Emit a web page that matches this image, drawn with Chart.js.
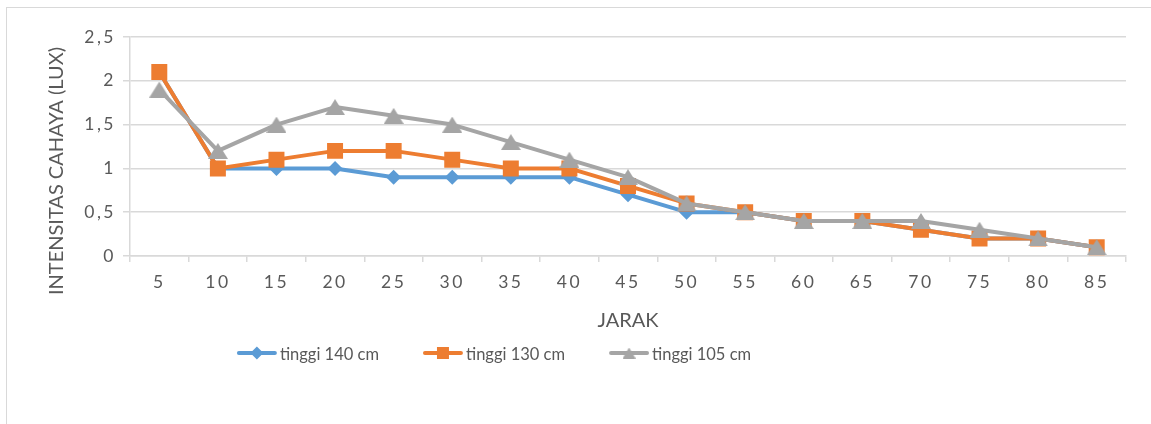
<!DOCTYPE html>
<html>
<head>
<meta charset="utf-8">
<script src="https://cdn.jsdelivr.net/npm/chart.js@4.4.1/dist/chart.umd.min.js"></script>
<style>
  html, body { margin: 0; padding: 0; background: #ffffff; overflow: hidden; }
  #wrap { position: relative; width: 1151px; height: 424px; }
  #frame { position: absolute; left: 6px; top: 7px; width: 1200px; height: 500px;
           border: 1.5px solid #d9d9d9; box-sizing: border-box; pointer-events: none; }
  canvas { position: absolute; left: 0; top: 0; }
</style>
</head>
<body>
<div id="wrap">
  <div id="frame"></div>
  <canvas id="chart" width="1151" height="424"></canvas>
</div>
<script>
// Jarak (cm) pada sumbu X
const jarak = ['5', '10', '15', '20', '25', '30', '35', '40', '45', '50', '55', '60', '65', '70', '75', '80', '85'];

// Intensitas cahaya (lux) untuk tiap tinggi lampu
const tinggi140 = [2.1, 1.0, 1.0, 1.0, 0.9, 0.9, 0.9, 0.9, 0.7, 0.5, 0.5, 0.4, 0.4, 0.3, 0.2, 0.2, 0.1];
const tinggi130 = [2.1, 1.0, 1.1, 1.2, 1.2, 1.1, 1.0, 1.0, 0.8, 0.6, 0.5, 0.4, 0.4, 0.3, 0.2, 0.2, 0.1];
const tinggi105 = [1.9, 1.2, 1.5, 1.7, 1.6, 1.5, 1.3, 1.1, 0.9, 0.6, 0.5, 0.4, 0.4, 0.4, 0.3, 0.2, 0.1];

const seriesNames = ['tinggi 140 cm', 'tinggi 130 cm', 'tinggi 105 cm'];
const yTicks = [0, 0.5, 1, 1.5, 2, 2.5];
const yTitle = 'INTENSITAS CAHAYA (LUX)';
const xTitle = 'JARAK';

const BLUE = '#5B9BD5', ORANGE = '#ED7D31', GRAY = '#A5A5A5';
const TEXT = '#595959', GRID = '#d9d9d9';
const FONT = 'Lato, "Open Sans", sans-serif';

const fmt = v => String(v).replace('.', ',');

// Triangle marker centred on its bounding box
function triangleImage(w, h, color) {
  const c = document.createElement('canvas');
  c.width = w; c.height = h;
  const g = c.getContext('2d');
  g.fillStyle = color;
  g.beginPath();
  g.moveTo(w / 2, 0); g.lineTo(w, h); g.lineTo(0, h);
  g.closePath();
  g.fill();
  return c;
}
const triMarker = triangleImage(20, 16, GRAY);
const triLegend = triangleImage(13, 11, GRAY);

// Letter-spaced tick labels: tick layers are drawn after the datasets (z: 1)
const spacing = {
  id: 'spacing',
  afterDatasetsDraw(chart) { chart.ctx.letterSpacing = '2.5px'; },
  afterDraw(chart) { chart.ctx.letterSpacing = '0px'; }
};

function marker(ctx, style, x, y, s, color) {
  if (style instanceof HTMLCanvasElement) {
    ctx.drawImage(style === triMarker ? triLegend : style, x - triLegend.width / 2, y - triLegend.height / 2);
    return;
  }
  ctx.fillStyle = color;
  ctx.beginPath();
  if (style === 'rectRot') {
    ctx.moveTo(x - s, y); ctx.lineTo(x, y - s); ctx.lineTo(x + s, y); ctx.lineTo(x, y + s);
  } else {
    ctx.rect(x - s, y - s, 2 * s, 2 * s);
  }
  ctx.closePath();
  ctx.fill();
}

// Axis titles and the line+marker legend
const decorations = {
  id: 'decorations',
  afterDraw(chart) {
    const ctx = chart.ctx;
    const a = chart.chartArea;
    ctx.save();
    ctx.letterSpacing = '0px';
    ctx.fillStyle = TEXT;
    ctx.font = '20px ' + FONT;
    ctx.textAlign = 'center';
    ctx.textBaseline = 'alphabetic';
    ctx.fillText(xTitle, (a.left + a.right) / 2, a.bottom + 71);
    ctx.save();
    ctx.translate(63, a.top + 134);
    ctx.rotate(-Math.PI / 2);
    ctx.fillText(yTitle, 0, 0);
    ctx.restore();

    ctx.font = '16.5px ' + FONT;
    ctx.textAlign = 'left';
    const ly = a.bottom + 97;
    const lineLen = 40, gap = 3, itemGap = 44;
    const widths = chart.data.datasets.map(d => ctx.measureText(d.label).width);
    const total = widths.reduce((s, w) => s + lineLen + gap + w, 0) + itemGap * (widths.length - 1);
    let x = 494 - total / 2;
    chart.data.datasets.forEach((d, i) => {
      ctx.strokeStyle = d.borderColor;
      ctx.lineWidth = 4;
      ctx.lineCap = 'round';
      ctx.beginPath();
      ctx.moveTo(x + 2, ly); ctx.lineTo(x + lineLen - 2, ly);
      ctx.stroke();
      const ms = d.pointStyle === 'rect' ? 6 : 6.5;
      marker(ctx, d.pointStyle, x + lineLen / 2, ly, ms, d.borderColor);
      ctx.fillStyle = TEXT;
      ctx.fillText(d.label, x + lineLen + gap, ly + 7);
      x += lineLen + gap + widths[i] + itemGap;
    });
    ctx.restore();
  }
};

new Chart(document.getElementById('chart'), {
  type: 'line',
  data: {
    labels: jarak,
    datasets: [
      { label: seriesNames[0], data: tinggi140, borderColor: BLUE, backgroundColor: BLUE,
        pointStyle: 'rectRot', pointRadius: 7.5, order: 3 },
      { label: seriesNames[1], data: tinggi130, borderColor: ORANGE, backgroundColor: ORANGE,
        pointStyle: 'rect', pointRadius: 11.3, order: 2 },
      { label: seriesNames[2], data: tinggi105, borderColor: GRAY, backgroundColor: GRAY,
        pointStyle: triMarker, pointRadius: 10, order: 1 }
    ]
  },
  options: {
    responsive: false,
    animation: false,
    events: [],
    elements: {
      line: { borderWidth: 4, tension: 0, borderCapStyle: 'round', borderJoinStyle: 'round' },
      point: { borderWidth: 0 }
    },
    layout: { padding: { left: 6, right: 25, top: 37, bottom: 0 } },
    plugins: { legend: { display: false }, tooltip: { enabled: false } },
    scales: {
      x: {
        offset: true,
        afterFit(scale) { scale.height = 168; },
        grid: { offset: true, drawOnChartArea: false, drawTicks: true, tickLength: 6,
                color: GRID, lineWidth: 1.5 },
        border: { display: true, color: GRID, width: 1.5 },
        ticks: { z: 1, color: TEXT, font: { family: FONT, size: 17.5 }, padding: 10,
                 maxRotation: 0, autoSkip: false }
      },
      y: {
        min: 0, max: 2.5,
        afterFit(scale) { scale.width = 124; },
        afterBuildTicks(scale) { scale.ticks = yTicks.map(v => ({ value: v })); },
        grid: { color: GRID, lineWidth: 1.5, drawTicks: true, tickLength: 7 },
        border: { display: true, color: GRID, width: 1.5 },
        ticks: { z: 1, color: TEXT, font: { family: FONT, size: 17.5 }, padding: 7,
                 callback: v => fmt(v) }
      }
    }
  },
  plugins: [spacing, decorations]
});
</script>
</body>
</html>
